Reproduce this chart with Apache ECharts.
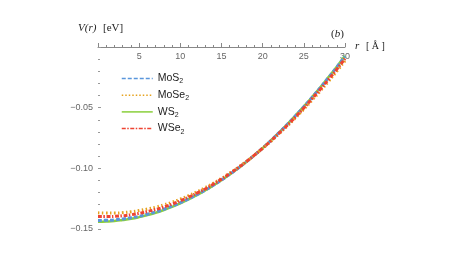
<!DOCTYPE html>
<html><head><meta charset="utf-8">
<script src="https://cdn.jsdelivr.net/npm/echarts@6/dist/echarts.min.js"></script>
<style>html,body{margin:0;padding:0;background:#fff}#c{width:463px;height:261px}</style>
</head><body><div id="c"></div>
<script>
const r = [0,1,2,3,4,5,6,7,8,9,10,11,12,13,14,15,16,17,18,19,20,21,22,23,24,25,26,27,28,29,30];
const MoS2 = [-0.1430,-0.1428,-0.1425,-0.1417,-0.1408,-0.1395,-0.1378,-0.1360,-0.1337,-0.1312,-0.1283,-0.1251,-0.1217,-0.1180,-0.1139,-0.1096,-0.1049,-0.1000,-0.0947,-0.0891,-0.0832,-0.0771,-0.0705,-0.0638,-0.0566,-0.0493,-0.0415,-0.0336,-0.0252,-0.0167,-0.0077];
const MoSe2 = [-0.1367,-0.1369,-0.1369,-0.1365,-0.1358,-0.1348,-0.1335,-0.1320,-0.1301,-0.1279,-0.1253,-0.1225,-0.1194,-0.1160,-0.1123,-0.1083,-0.1039,-0.0993,-0.0944,-0.0891,-0.0836,-0.0778,-0.0715,-0.0651,-0.0583,-0.0513,-0.0439,-0.0363,-0.0283,-0.0200,-0.0114];
const WS2 = [-0.1440,-0.1438,-0.1434,-0.1426,-0.1416,-0.1402,-0.1385,-0.1366,-0.1343,-0.1317,-0.1288,-0.1256,-0.1221,-0.1183,-0.1142,-0.1098,-0.1051,-0.1001,-0.0948,-0.0891,-0.0832,-0.0770,-0.0704,-0.0636,-0.0564,-0.0490,-0.0412,-0.0332,-0.0248,-0.0162,-0.0072];
const WSe2 = [-0.1398,-0.1398,-0.1396,-0.1391,-0.1383,-0.1371,-0.1356,-0.1339,-0.1319,-0.1295,-0.1268,-0.1238,-0.1205,-0.1170,-0.1131,-0.1089,-0.1044,-0.0996,-0.0946,-0.0891,-0.0834,-0.0774,-0.0710,-0.0645,-0.0575,-0.0503,-0.0427,-0.0349,-0.0268,-0.0184,-0.0096];
const names = ['MoS2','MoSe2','WS2','WSe2'];
const legendLabels = {MoS2:'MoS{s|2}', MoSe2:'MoSe{s|2}', WS2:'WS{s|2}', WSe2:'WSe{s|2}'};
const xTickLabels = ['5','10','15','20','25','30'];
const yTickLabels = ['−0.05','−0.10','−0.15'];

const colors = ['#5A96DC','#E6A21E','#8ACF3C','#EE4332'];
const styles = [
  {type:[4,2], width:3},
  {type:[1.5,2.5], width:3},
  {type:'solid', width:2.5},
  {type:[4,1.5,1.5,1.5], width:3}
];
const legendDash = [[4,2],[1.5,2],'solid',[4,1.5,1.5,1.5]];
const dataSets = [MoS2, MoSe2, WS2, WSe2];

const chart = echarts.init(document.getElementById('c'), null, {renderer:'canvas'});
chart.setOption({
  animation:false,
  color: colors,
  grid:{left:98, right:118, top:47, bottom:32, containLabel:false},
  legend:{
    orient:'vertical', left:116, top:68, itemWidth:31, itemHeight:10, itemGap:4.7,
    data: names.map((n,i)=>({name:n, itemStyle:{opacity:0}, lineStyle:{width:1.5, type:legendDash[i]}})),
    formatter: n => legendLabels[n],
    textStyle:{fontFamily:'Liberation Sans', fontSize:10.5, color:'#222',
      rich:{s:{fontSize:7, verticalAlign:'bottom', padding:[6,0,0,0], fontFamily:'Liberation Sans', color:'#222'}}}
  },
  xAxis:{
    type:'value', position:'top', min:0, max:30, interval:5,
    axisLine:{show:true, onZero:false, lineStyle:{color:'#888', width:1}},
    axisTick:{show:true, inside:false, length:4, lineStyle:{color:'#888'}},
    minorTick:{show:true, splitNumber:5, length:2, lineStyle:{color:'#888'}},
    splitLine:{show:false},
    axisLabel:{inside:true, margin:5, fontFamily:'Liberation Sans', fontSize:9, color:'#666',
      formatter: v => { const i = Math.round(v/5)-1; return i>=0 ? xTickLabels[i] : ''; }}
  },
  yAxis:{
    type:'value', min:-0.15, max:0, interval:0.05,
    axisLine:{show:false},
    axisTick:{show:true, inside:true, length:3, lineStyle:{color:'#999'}},
    minorTick:{show:true, splitNumber:5, length:2, lineStyle:{color:'#999'}},
    splitLine:{show:false},
    axisLabel:{margin:5, fontFamily:'Liberation Sans', fontSize:9, color:'#666',
      formatter: v => { const i = Math.round(-v/0.05)-1; return i>=0 ? yTickLabels[i] : ''; }}
  },
  series: names.map((n,i)=>({
    name:n, type:'line', showSymbol:false, symbol:'none', smooth:true, z:2+(i===2?0:1),
    data: r.map((x,j)=>[x, dataSets[i][j]]),
    lineStyle:{color:colors[i], width:styles[i].width, type:styles[i].type}
  })),
  graphic:[
    {type:'text', left:78, top:22, style:{text:'{i|V(r)}  {n|[eV]}', rich:{
      i:{fontFamily:'Liberation Serif', fontStyle:'italic', fontSize:11, fill:'#222'},
      n:{fontFamily:'Liberation Serif', fontSize:11, fill:'#222'}}}},
    {type:'text', left:355, top:40, style:{text:'{i|r}  {n|[ Å ]}', rich:{
      i:{fontFamily:'Liberation Serif', fontStyle:'italic', fontSize:11, fill:'#222'},
      n:{fontFamily:'Liberation Serif', fontSize:10, fill:'#222'}}}},
    {type:'text', left:331, top:29, style:{text:'({i|b})', fontFamily:'Liberation Serif', fontSize:11, fill:'#222', rich:{
      i:{fontFamily:'Liberation Serif', fontStyle:'italic', fontSize:11, fill:'#222'}}}}
  ]
});
</script></body></html>
